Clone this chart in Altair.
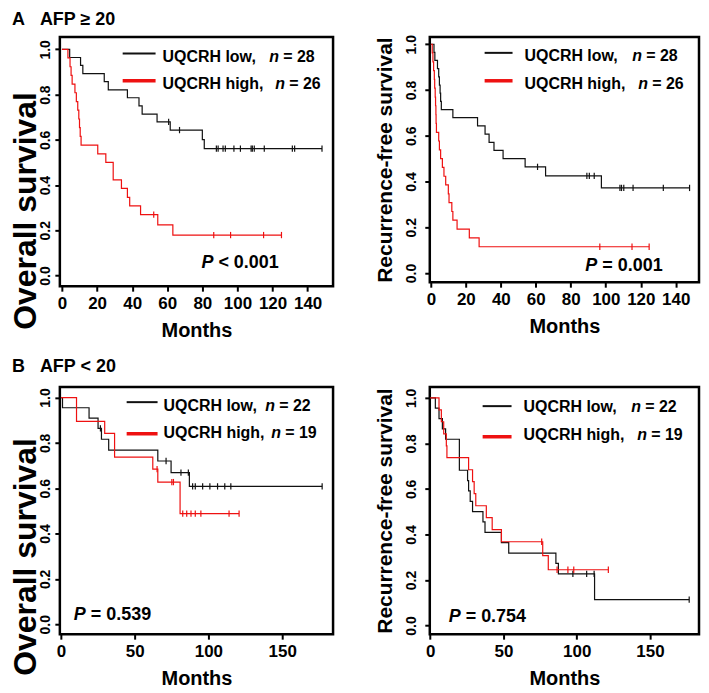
import altair as alt
import pandas as pd

FONT = "Liberation Sans"
BLACK = "#111111"
RED = "#ee1111"

# ---------------- data ----------------
# A, overall survival, AFP >= 20
a_os_low_t = [0, 4.4, 10.6, 11.9, 24.1, 26.4, 37.3, 43.9, 45.7, 54.2, 61.7, 80.0, 81.1, 148.2]
a_os_low_s = [1.0, 0.964, 0.929, 0.893, 0.857, 0.821, 0.786, 0.750, 0.714, 0.679, 0.643, 0.601, 0.561, 0.561]
a_os_low_c = [60.8, 67.0, 88.0, 89.0, 91.8, 93.1, 98.0, 101.7, 107.8, 108.5, 109.6, 115.3, 131.3, 132.6, 148.2]
a_os_high_t = [0, 3.4, 4.6, 5.2, 5.8, 7.4, 8.2, 9.0, 9.6, 10.0, 10.4, 10.9, 20.4, 25.0, 29.2, 33.9,
               37.3, 38.6, 44.8, 54.6, 63.2, 125.1]
a_os_high_s = [1.0, 0.962, 0.923, 0.885, 0.846, 0.808, 0.769, 0.731, 0.692, 0.654, 0.615, 0.577, 0.538,
               0.500, 0.423, 0.385, 0.346, 0.308, 0.269, 0.224, 0.179, 0.179]
a_os_high_c = [52.3, 86.5, 96.1, 114.9, 125.1]

# A, recurrence-free survival, AFP >= 20
a_rfs_low_t = [0, 1.8, 2.3, 3.8, 4.5, 4.9, 5.3, 5.6, 6.0, 12.6, 26.7, 31.0, 33.3, 36.1, 41.3, 53.9,
               65.6, 97.5, 147.9]
a_rfs_low_s = [1.0, 0.964, 0.929, 0.893, 0.857, 0.821, 0.786, 0.750, 0.714, 0.679, 0.643, 0.607, 0.571,
               0.536, 0.500, 0.464, 0.425, 0.372, 0.372]
a_rfs_low_c = [61.0, 89.2, 90.6, 93.4, 108.1, 109.0, 110.3, 115.6, 132.9, 147.9]
a_rfs_high_t = [0, 0.8, 1.2, 1.6, 2.0, 2.2, 2.5, 2.7, 2.9, 3.0, 3.2, 4.5, 4.9, 5.6, 6.6, 7.5, 8.5,
                10.0, 10.4, 12.0, 12.6, 15.0, 22.0, 27.6, 124.8]
a_rfs_high_s = [1.0, 0.962, 0.923, 0.885, 0.846, 0.808, 0.769, 0.731, 0.692, 0.654, 0.615, 0.577, 0.538,
                0.500, 0.462, 0.423, 0.385, 0.346, 0.308, 0.269, 0.231, 0.192, 0.154, 0.115, 0.115]
a_rfs_high_c = [96.6, 115.0, 124.8]

# B, overall survival, AFP < 20
b_os_low_t = [0, 1.1, 19.1, 25.2, 27.5, 32.4, 65.7, 74.7, 87.1, 177.1]
b_os_low_s = [1.0, 0.955, 0.909, 0.864, 0.816, 0.768, 0.720, 0.669, 0.608, 0.608]
b_os_low_c = [26.8, 71.3, 81.4, 86.4, 89.3, 91.1, 96.1, 101.0, 106.2, 111.1, 115.2, 177.1]
b_os_high_t = [0, 10.6, 29.7, 36.4, 62.3, 65.7, 80.8, 120.8]
b_os_high_s = [1.0, 0.895, 0.842, 0.737, 0.684, 0.627, 0.488, 0.488]
b_os_high_c = [65.2, 75.2, 76.3, 82.6, 85.3, 88.2, 91.1, 94.9, 114.0, 120.8]

# B, recurrence-free survival, AFP < 20
b_rfs_low_t = [0, 3.5, 6.0, 8.3, 10.5, 19.9, 25.5, 26.2, 27.3, 28.9, 36.0, 37.4, 48.6, 53.6, 85.8,
               87.5, 112.2, 176.8]
b_rfs_low_s = [1.0, 0.955, 0.909, 0.864, 0.818, 0.682, 0.636, 0.591, 0.545, 0.500, 0.455, 0.409, 0.364,
               0.318, 0.273, 0.227, 0.114, 0.114]
b_rfs_low_c = [97.4, 106.8, 111.9, 176.8]
b_rfs_high_t = [0, 6.0, 7.6, 9.2, 11.0, 11.4, 26.2, 28.9, 30.0, 31.1, 38.3, 42.3, 48.6, 76.8, 80.6, 121.6]
b_rfs_high_s = [1.0, 0.947, 0.895, 0.842, 0.789, 0.737, 0.684, 0.632, 0.579, 0.526, 0.474, 0.421, 0.368,
                0.307, 0.245, 0.245]
b_rfs_high_c = [76.1, 86.6, 94.0, 98.0, 121.6]

GROUPS = ["low", "high"]
A_TICKS = [0, 20, 40, 60, 80, 100, 120, 140]
B_TICKS = [0, 50, 100, 150]
Y_TICKS = [0.0, 0.2, 0.4, 0.6, 0.8, 1.0]


def step_value(ts, ss, c):
    v = ss[0]
    for t, s in zip(ts, ss):
        if t <= c:
            v = s
    return v


def build_frames(low, high):
    rows, cens = [], []
    for g, (ts, ss, cs) in zip(GROUPS, [low, high]):
        for t, s in zip(ts, ss):
            rows.append({"t": t, "s": s, "g": g})
        for c in cs:
            cens.append({"t": c, "s": step_value(ts, ss, c), "g": g})
    return pd.DataFrame(rows), pd.DataFrame(cens)


def txt(text, x, y, size=16, italic=False, align="left"):
    return alt.Chart(pd.DataFrame({"k": [0]})).mark_text(
        text=text, font=FONT, fontSize=size, fontWeight="bold",
        fontStyle="italic" if italic else "normal", align=align,
        baseline="middle", color="black",
    ).encode(x=alt.value(x), y=alt.value(y))


def hline(x1, x2, y, color, width):
    return alt.Chart(pd.DataFrame({"k": [0]})).mark_rule(color=color, strokeWidth=width).encode(
        x=alt.value(x1), x2=alt.value(x2), y=alt.value(y))


def panel(low, high, xdom, ydom, xticks, w, h, ytitle, ytsize, ylabpad, ytitle_opts,
          leg, nlow, nhigh, ptext, ppos, section=None):
    curves, cens = build_frames(low, high)
    color = alt.Color("g:N", scale=alt.Scale(domain=GROUPS, range=[BLACK, RED]), legend=None)
    x = alt.X("t:Q", scale=alt.Scale(domain=xdom, nice=False, zero=False),
              axis=alt.Axis(title="Months", values=xticks, format="d", labelFlush=False,
                            labelOverlap=False,
                            labelFont=FONT, labelFontSize=17, labelFontWeight="bold", labelColor="black",
                            titleFont=FONT, titleFontSize=20, titleFontWeight="bold", titleColor="black",
                            tickSize=5, tickWidth=2, tickColor="black", domain=False, grid=False,
                            labelPadding=4, titlePadding=9))
    y = alt.Y("s:Q", scale=alt.Scale(domain=ydom, nice=False, zero=False),
              axis=alt.Axis(title=ytitle, values=Y_TICKS, format=".1f", labelAngle=270,
                            labelAlign="center", labelBaseline="bottom", labelOverlap=False,
                            labelFont=FONT, labelFontSize=14, labelFontWeight="bold", labelColor="black",
                            titleFont=FONT, titleFontSize=ytsize, titleFontWeight="bold", titleColor="black",
                            tickSize=5, tickWidth=2, tickColor="black", domain=False, grid=False,
                            labelPadding=ylabpad, **ytitle_opts))
    lines = alt.Chart(curves).mark_line(interpolate="step-after", strokeWidth=1.2).encode(
        x=x, y=y, color=color, detail="g:N", order="t:Q")
    ticks = alt.Chart(cens).mark_point(shape="M0,-1L0,1", size=40, strokeWidth=1.2, filled=False,
                                       opacity=1).encode(x=x, y=y, color=color)
    lx1, lx2, ly1, ly2, tx, ty1, ty2, nx1, nx2 = leg
    layers = [lines, ticks,
              hline(lx1, lx2, ly1, BLACK, 2), hline(lx1, lx2, ly2, RED, 3.5),
              txt("UQCRH low,", tx, ty1), txt("n", nx1, ty1, italic=True), txt("= %d" % nlow, nx1 + 14, ty1),
              txt("UQCRH high,", tx, ty2), txt("n", nx2, ty2, italic=True), txt("= %d" % nhigh, nx2 + 14, ty2),
              txt("P", ppos[0], ppos[1], size=18, italic=True), txt(ptext, ppos[0] + 17, ppos[1], size=18)]
    if section:
        layers += [txt(section[0], section[1], section[2], size=18),
                   txt(section[3], section[4], section[2], size=18)]
    return alt.layer(*layers).properties(width=w, height=h)


pA1 = panel((a_os_low_t, a_os_low_s, a_os_low_c), (a_os_high_t, a_os_high_s, a_os_high_c),
            [-1.2, 154.5], [-0.047, 1.055], A_TICKS, 274, 250, "Overall survival", 32, 2,
            {"titleX": -17, "titleY": 174},
            (63, 96, 16.7, 44, 103, 20, 47.7, 210, 216), 28, 26, "< 0.001", (142, 227),
            section=("A", -48, -17, "AFP \u2265 20", -20))
pA2 = panel((a_rfs_low_t, a_rfs_low_s, a_rfs_low_c), (a_rfs_high_t, a_rfs_high_s, a_rfs_high_c),
            [-0.6, 153.3], [-0.04, 1.032], A_TICKS, 270, 246, "Recurrence-free survival", 21, 6,
            {"titlePadding": 9},
            (55, 83, 16, 44, 95, 19, 47, 203, 209), 28, 26, "= 0.001", (156, 230))
pB1 = panel((b_os_low_t, b_os_low_s, b_os_low_c), (b_os_high_t, b_os_high_s, b_os_high_c),
            [-0.7, 184.5], [-0.044, 1.047], B_TICKS, 274, 248, "Overall survival", 32, 2,
            {"titleX": -17, "titleY": 170},
            (67, 98, 15.3, 47, 104, 18.7, 46.4, 206, 212), 22, 19, "= 0.539", (14, 229),
            section=("B", -48, -20, "AFP < 20", -20))
pB2 = panel((b_rfs_low_t, b_rfs_low_s, b_rfs_low_c), (b_rfs_high_t, b_rfs_high_s, b_rfs_high_c),
            [-0.3, 183.5], [-0.038, 1.048], B_TICKS, 270, 248, "Recurrence-free survival", 21, 6,
            {"titlePadding": 9},
            (53, 82, 19.3, 50, 94, 20, 48.7, 202, 208), 22, 19, "= 0.754", (19, 231))

chart = alt.concat(pA1, pA2, pB1, pB2, columns=2, spacing={"row": 101, "column": 97},
                   bounds="flush").properties(padding=0, background="white").configure_view(
    stroke="black", strokeWidth=2.5)

chart.save("out.html", embed_options={"renderer": "svg", "actions": False})
